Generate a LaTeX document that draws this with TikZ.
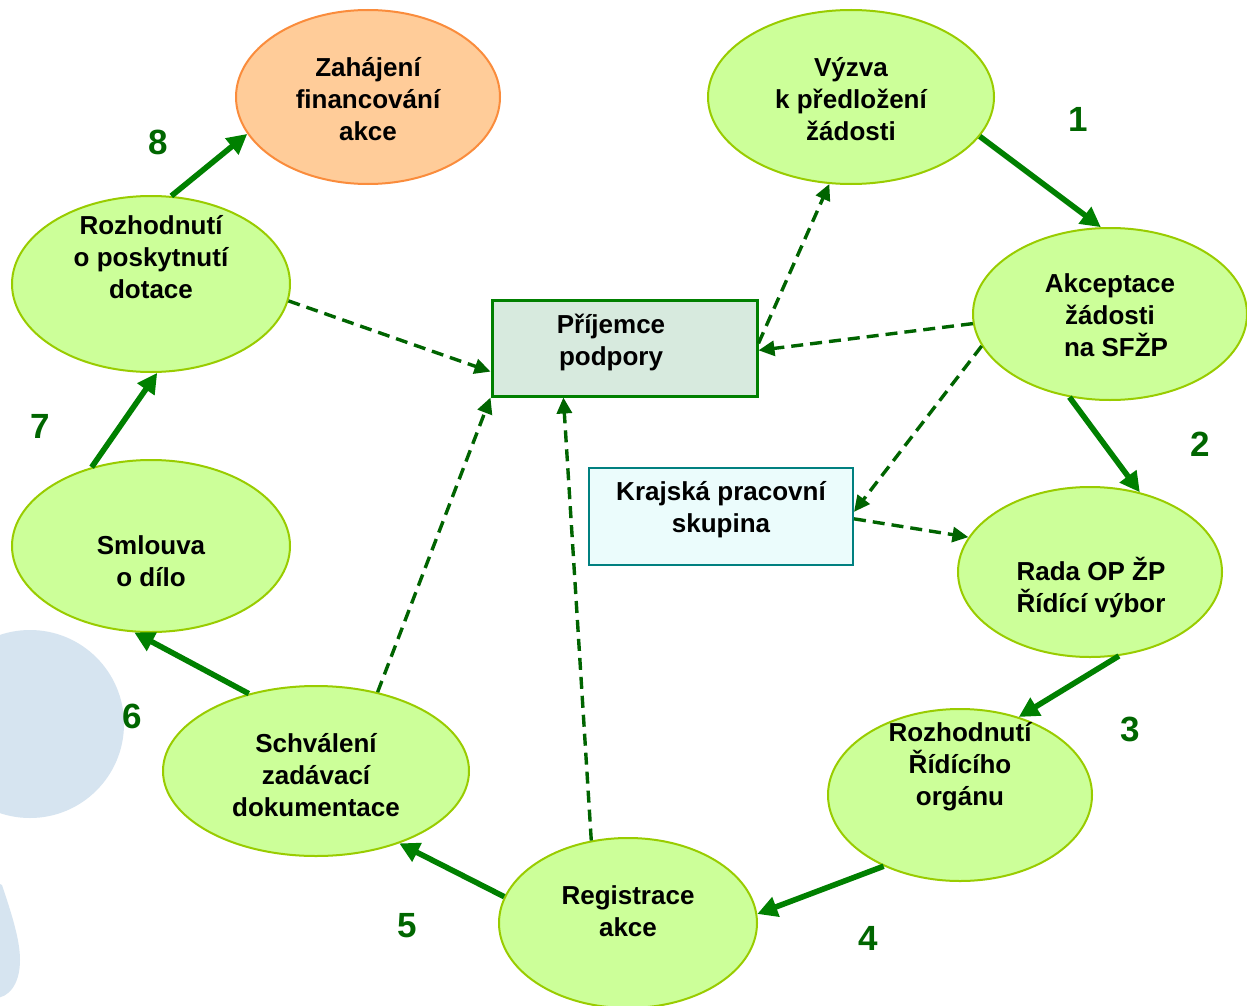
\documentclass[tikz,border=0pt]{standalone}
\usepackage{fontspec}
\setmainfont{Liberation Sans}
\usetikzlibrary{arrows.meta,shapes.geometric}
\definecolor{ellfill}{RGB}{204,255,153}
\definecolor{elldraw}{RGB}{153,204,0}
\definecolor{orfill}{RGB}{255,204,153}
\definecolor{ordraw}{RGB}{250,140,60}
\definecolor{arrgreen}{RGB}{0,128,0}
\definecolor{dashgreen}{RGB}{0,100,0}
\definecolor{numgreen}{RGB}{0,102,0}
\definecolor{boxfill}{RGB}{215,234,222}
\definecolor{boxdraw}{RGB}{0,128,0}
\definecolor{krfill}{RGB}{235,252,252}
\definecolor{krdraw}{RGB}{0,128,128}
\definecolor{logoblue}{RGB}{214,228,240}
\tikzset{
  ell/.style={ellipse, draw=elldraw, fill=ellfill, line width=1pt, inner sep=0pt},
  orell/.style={ellipse, draw=ordraw, fill=orfill, line width=1pt, inner sep=0pt},
  txt/.style={font=\bfseries\fontsize{13}{16}\selectfont, align=center, inner sep=0pt},
  num/.style={font=\bfseries\fontsize{17.5}{20}\selectfont, text=numgreen, inner sep=0pt},
  solidarrow/.style={draw=arrgreen, line width=2.8pt, -{Triangle[length=10pt,width=10pt]}},
  dasharrow/.style={draw=dashgreen, line width=1.7pt, dash pattern=on 6pt off 3.5pt, -{Triangle[length=8pt,width=7.5pt]}},
  prijbox/.style={rectangle, draw=boxdraw, fill=boxfill, line width=1.5pt, inner sep=0pt, minimum width=132.5pt, minimum height=48pt},
  krbox/.style={rectangle, draw=krdraw, fill=krfill, line width=1pt, inner sep=0pt, minimum width=132pt, minimum height=48.5pt}
}
\begin{document}
\begin{tikzpicture}[x=0.5pt,y=-0.5pt]
\clip (0,0) rectangle (1247,1006);
\fill[white] (0,0) rectangle (1247,1006);
% background logo
\fill[logoblue] (30,724) circle[radius=94];
\fill[logoblue] (-30,870) -- (2,885) .. controls (12,915) and (20,940) .. (20,960) .. controls (20,985) and (8,998) .. (-5,998) -- (-30,998) -- cycle;

% ellipses
\node[ell, minimum width=143pt, minimum height=87pt] (vyzva) at (851,97) {};
\node[ell, minimum width=137pt, minimum height=86pt] (akc) at (1110,314) {};
\node[ell, minimum width=132pt, minimum height=85pt] (rada) at (1090,572) {};
\node[ell, minimum width=132pt, minimum height=86pt] (rro) at (960,795) {};
\node[ell, minimum width=129pt, minimum height=85pt] (reg) at (628,923) {};
\node[ell, minimum width=153pt, minimum height=85pt] (schv) at (316,771) {};
\node[ell, minimum width=139pt, minimum height=86pt] (sml) at (151,546) {};
\node[ell, minimum width=139pt, minimum height=88pt] (rop) at (151,284) {};
\node[orell, minimum width=132pt, minimum height=87pt] (zah) at (368,97) {};

% boxes
\node[prijbox] (prij) at (624.5,348) {};
\node[krbox] (kraj) at (721,516.5) {};

% texts
\node[txt] (tvyzva) at (851,99) {Výzva\\k předložení\\žádosti};
\node[txt] (takc) at (1110,315) {Akceptace\\žádosti\\\hspace*{6pt}na SFŽP};
\node[txt] (trada) at (1091,588) {Rada OP ŽP\\Řídící výbor};
\node[txt] (trro) at (960,767) {Rozhodnutí\\Řídícího\\orgánu};
\node[txt] (treg) at (628,911) {Registrace\\akce};
\node[txt] (tschv) at (316,775) {Schválení\\zadávací\\dokumentace};
\node[txt] (tsml) at (151,561) {Smlouva\\o dílo};
\node[txt] (trop) at (151,257) {Rozhodnutí\\o poskytnutí\\dotace};
\node[txt] (tzah) at (368,99) {Zahájení\\financování\\akce};
\node[txt] (tprij) at (611,342) {Příjemce\\podpory};
\node[txt] (tkraj) at (721,510) {Krajská pracovní\\skupina};

% numbers
\node[num] (n1) at (1078,119) {1};
\node[num] (n2) at (1200,444) {2};
\node[num] (n3) at (1130,729) {3};
\node[num] (n4) at (868,938) {4};
\node[num] (n5) at (407,926) {5};
\node[num] (n6) at (132,716) {6};
\node[num] (n7) at (40,426) {7};
\node[num] (n8) at (158,142) {8};

% solid arrows
\draw[solidarrow] (vyzva.-17.6) -- (akc.96.2);
\draw[solidarrow] (akc.-116.6) -- (rada.58.6);
\draw[solidarrow] (rada.-71.8) -- (rro.53.7);
\draw[solidarrow] (rro.-137.6) -- (reg.4.8);
\draw[solidarrow] (reg.168.6) -- (schv.-41.2);
\draw[solidarrow] (schv.131) -- (sml.-101.8);
\draw[solidarrow] (sml.127.8) -- (rop.-86.2);
\draw[solidarrow] (rop.77.2) -- (zah.-163.9);

% dashed arrows
\draw[dasharrow] (prij.2.2) -- (vyzva.-104.3);
\draw[dasharrow] (akc.184) -- (prij.-1.7);
\draw[dasharrow] (akc.-166.2) -- (kraj.2);
\draw[dasharrow] (kraj.-1) -- (rada.164.8);
\draw[dasharrow] (rop.-7.4) -- (prij.190.3);
\draw[dasharrow] (schv.52.9) -- (prij.south west);
\draw[dasharrow] (reg.114) -- (prij.-141.1);
\end{tikzpicture}
\end{document}
